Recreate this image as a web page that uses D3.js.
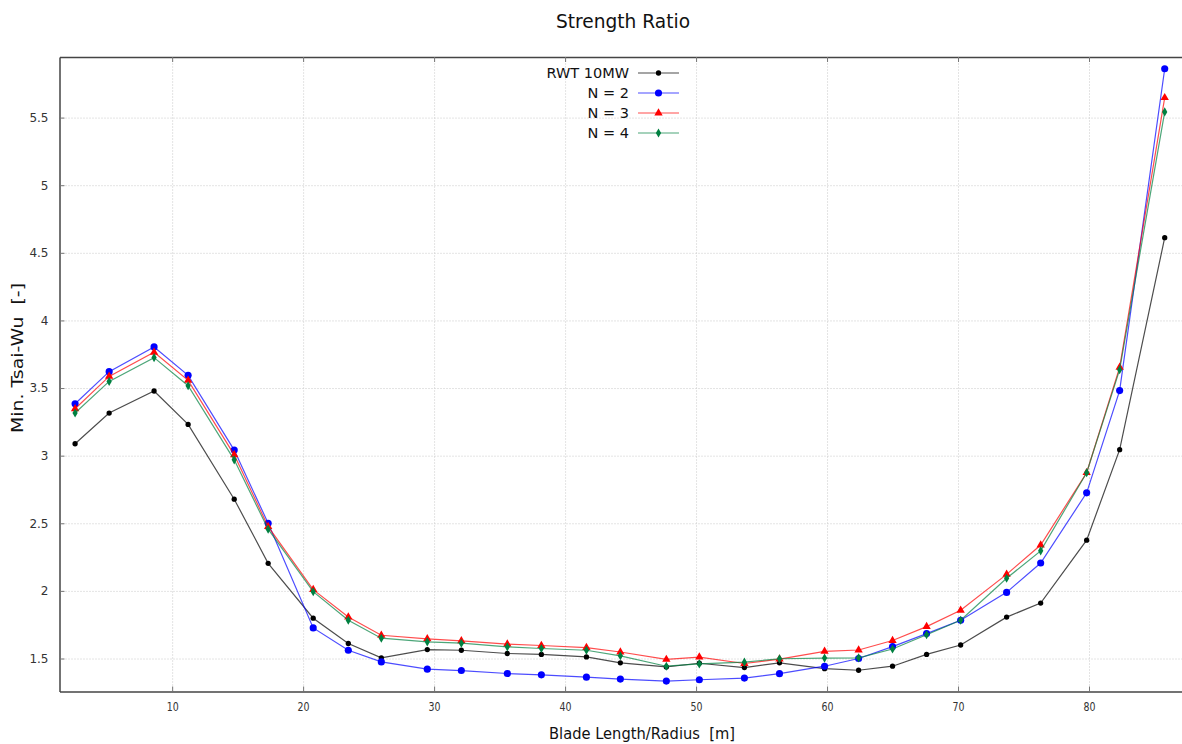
<!DOCTYPE html>
<html>
<head>
<meta charset="utf-8">
<script src="https://cdn.jsdelivr.net/npm/d3@7"></script>
<style>
  html, body { margin: 0; padding: 0; background: #fff; }
  svg { display: block; }
  text { font-family: "DejaVu Sans", sans-serif; }
  .pre { white-space: pre; }
</style>
</head>
<body>
<svg id="chart" width="1182" height="744"></svg>
<script>
// ---- data ----
const bladeRadius = [2.59, 5.19, 8.62, 11.22, 14.74, 17.33, 20.77, 23.45, 25.97, 29.48,
  32.08, 35.59, 38.19, 41.63, 44.22, 47.73, 50.25, 53.69, 56.37, 59.81,
  62.41, 65.00, 67.60, 70.20, 73.71, 76.31, 79.82, 82.34, 85.78];

const rwt10mw = [3.088, 3.315, 3.478, 3.231, 2.678, 2.204, 1.798, 1.611, 1.505, 1.566,
  1.561, 1.537, 1.530, 1.512, 1.468, 1.438, 1.465, 1.433, 1.468, 1.425,
  1.413, 1.443, 1.530, 1.600, 1.806, 1.910, 2.375, 3.044, 4.612];

const n2 = [3.384, 3.621, 3.804, 3.594, 3.041, 2.500, 1.726, 1.561, 1.475, 1.421,
  1.411, 1.389, 1.379, 1.362, 1.348, 1.333, 1.343, 1.355, 1.388, 1.443,
  1.500, 1.588, 1.684, 1.783, 1.989, 2.206, 2.725, 3.481, 5.861];

const n3 = [3.347, 3.586, 3.764, 3.557, 3.006, 2.475, 2.009, 1.807, 1.672, 1.645,
  1.630, 1.606, 1.596, 1.581, 1.548, 1.493, 1.510, 1.463, 1.495, 1.553,
  1.563, 1.633, 1.736, 1.857, 2.122, 2.339, 2.874, 3.653, 5.647];

const n4 = [3.315, 3.549, 3.725, 3.517, 2.969, 2.456, 1.994, 1.783, 1.650, 1.623,
  1.613, 1.586, 1.574, 1.561, 1.520, 1.443, 1.460, 1.473, 1.498, 1.503,
  1.505, 1.570, 1.676, 1.783, 2.093, 2.296, 2.874, 3.636, 5.542];

const seriesNames = ["RWT 10MW", "N = 2", "N = 3", "N = 4"];
const xTicks = [10, 20, 30, 40, 50, 60, 70, 80];
const yTicks = [1.5, 2, 2.5, 3, 3.5, 4, 4.5, 5, 5.5];
const yTickLabels = ["1.5", "2", "2.5", "3", "3.5", "4", "4.5", "5", "5.5"];

const titleText = "Strength Ratio";
const xLabelText = "Blade Length/Radius  [m]";
const yLabelText = "Min. Tsai-Wu  [-]";

// ---- styling ----
const styles = [
  { color: "#000000", symbol: d3.symbolCircle, size: 22 },
  { color: "#0000ff", symbol: d3.symbolCircle, size: 40 },
  { color: "#ff0000", symbol: d3.symbolTriangle, size: 30 },
  { color: "#008040", symbol: d3.symbolDiamond, size: 24 }
];
const seriesValues = [rwt10mw, n2, n3, n4];

const svg = d3.select("#chart");
const m = { left: 59.5, top: 57, right: 1182, bottom: 691.5 };
const W = m.right - m.left, H = m.bottom - m.top;

const x = d3.scaleLinear().domain([1.40, 87.10]).range([m.left, m.right]);
const y = d3.scaleLinear().domain([1.256, 5.948]).range([m.bottom, m.top]);

// grid
const grid = svg.append("g");
grid.append("g")
  .attr("transform", `translate(0,${m.bottom})`)
  .call(d3.axisBottom(x).tickValues(xTicks).tickSize(-H).tickFormat(""))
  .call(g => g.select(".domain").remove())
  .call(g => g.selectAll("line").attr("stroke", "#c8c8c8").attr("stroke-dasharray", "1,2"));
grid.append("g")
  .attr("transform", `translate(${m.left},0)`)
  .call(d3.axisLeft(y).tickValues(yTicks).tickSize(-W).tickFormat(""))
  .call(g => g.select(".domain").remove())
  .call(g => g.selectAll("line").attr("stroke", "#c8c8c8").attr("stroke-dasharray", "1,2"));

// axes with inward ticks
const axCol = "#444";
const xb = svg.append("g").attr("transform", `translate(0,${m.bottom})`)
  .call(d3.axisBottom(x).tickValues(xTicks).tickSizeInner(-5).tickSizeOuter(0).tickPadding(11));
const xt = svg.append("g").attr("transform", `translate(0,${m.top})`)
  .call(d3.axisTop(x).tickValues(xTicks).tickSizeInner(-5).tickSizeOuter(0).tickFormat(""));
const yl = svg.append("g").attr("transform", `translate(${m.left},0)`)
  .call(d3.axisLeft(y).tickValues(yTicks).tickSizeInner(-5).tickSizeOuter(0).tickPadding(11)
    .tickFormat((d, i) => yTickLabels[i]));
[xb, xt, yl].forEach(g => {
  g.select(".domain").attr("stroke", axCol).attr("stroke-width", 1.5);
  g.selectAll(".tick line").attr("stroke", "#777").attr("stroke-width", 1);
});
xb.selectAll(".tick text").attr("fill", "#333").attr("font-size", 12)
  .attr("font-family", "'DejaVu Sans Condensed', 'DejaVu Sans', sans-serif")
  .attr("textLength", 12).attr("lengthAdjust", "spacingAndGlyphs");
yl.selectAll(".tick text").attr("fill", "#333").attr("font-size", 12)
  .attr("font-family", "'DejaVu Sans Condensed', 'DejaVu Sans', sans-serif");

// lines and markers
const line = d3.line().x((d, i) => x(bladeRadius[i])).y(d => y(d));
seriesValues.forEach((vals, s) => {
  const st = styles[s];
  svg.append("path").datum(vals)
    .attr("d", line)
    .attr("fill", "none")
    .attr("stroke", st.color)
    .attr("stroke-opacity", 0.7)
    .attr("stroke-width", 1.2);
  svg.append("g").selectAll("path").data(vals).join("path")
    .attr("transform", (d, i) => `translate(${x(bladeRadius[i])},${y(d)})`)
    .attr("d", d3.symbol().type(st.symbol).size(st.size))
    .attr("fill", st.color);
});

// legend
const lg = svg.append("g");
seriesNames.forEach((name, i) => {
  const yy = 73 + i * 20;
  lg.append("text").attr("x", 629).attr("y", yy).attr("dy", "0.36em")
    .attr("text-anchor", "end").attr("font-size", 14.5).attr("fill", "#111").text(name);
  lg.append("line").attr("x1", 638).attr("x2", 679).attr("y1", yy).attr("y2", yy)
    .attr("stroke", styles[i].color).attr("stroke-opacity", 0.7).attr("stroke-width", 1.2);
  lg.append("path").attr("transform", `translate(658.5,${yy})`)
    .attr("d", d3.symbol().type(styles[i].symbol).size(styles[i].size))
    .attr("fill", styles[i].color);
});

// title and axis labels
svg.append("text").attr("x", 623).attr("y", 28).attr("text-anchor", "middle")
  .attr("font-size", 20).attr("fill", "#111")
  .attr("textLength", 134).attr("lengthAdjust", "spacingAndGlyphs").text(titleText);
svg.append("text").attr("class", "pre").attr("x", 642).attr("y", 739).attr("text-anchor", "middle")
  .attr("font-size", 16).attr("fill", "#111")
  .attr("textLength", 186).attr("lengthAdjust", "spacingAndGlyphs").text(xLabelText);
svg.append("text").attr("class", "pre").attr("transform", "translate(23,358) rotate(-90)").attr("text-anchor", "middle")
  .attr("font-size", 15.5).attr("fill", "#111")
  .attr("textLength", 150).attr("lengthAdjust", "spacingAndGlyphs").text(yLabelText);
</script>
</body>
</html>
